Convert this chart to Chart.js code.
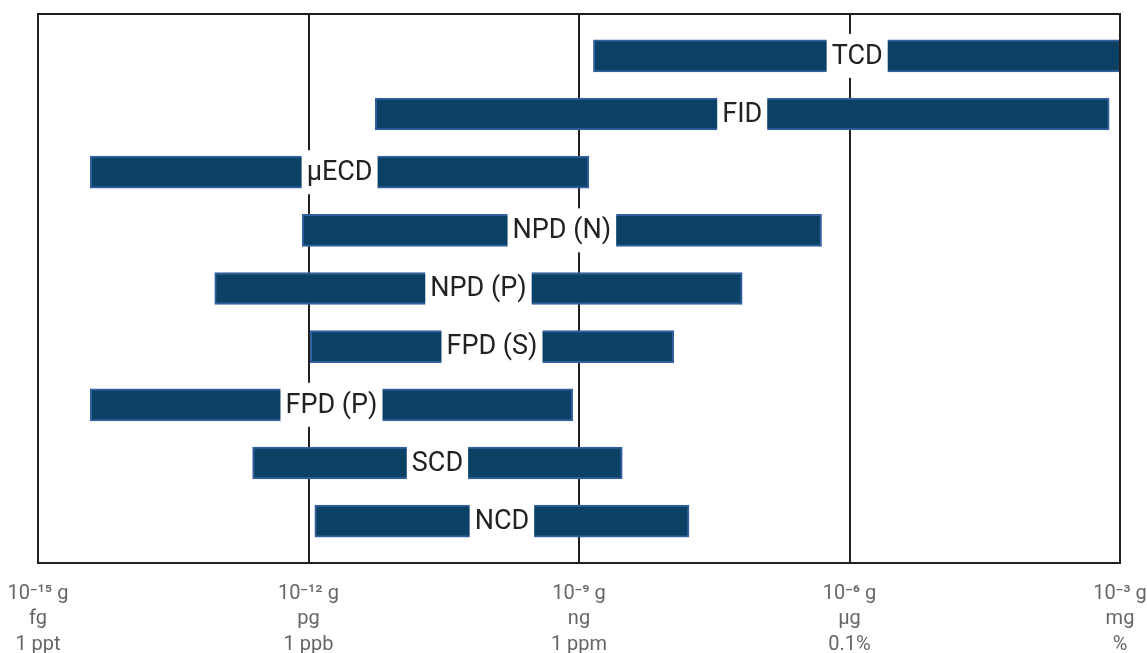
<!DOCTYPE html>
<html>
<head>
<meta charset="utf-8">
<script src="https://cdn.jsdelivr.net/npm/chart.js@4/dist/chart.umd.min.js"></script>
<style>
  html, body { margin: 0; padding: 0; background: #fff; }
  #wrap { width: 1147px; height: 653px; }
</style>
</head>
<body>
<div id="wrap"><canvas id="myChart"></canvas></div>
<script>
// Detectores y rango de detección (exponentes de 10, en gramos)
const detectores = ['TCD', 'FID', 'μECD', 'NPD (N)', 'NPD (P)', 'FPD (S)', 'FPD (P)', 'SCD', 'NCD'];
const expMin = [-8.84, -11.26, -14.42, -12.07, -13.04, -11.98, -14.42, -12.62, -11.93];
const expMax = [-2.99, -3.12, -8.89, -6.31, -7.19, -7.95, -9.07, -8.52, -7.78];

// Etiquetas del eje x
const ticksX = [1e-15, 1e-12, 1e-9, 1e-6, 1e-3];
const etiquetasX = [
    ['10⁻¹⁵ g', 'fg', '1 ppt'],
    ['10⁻¹² g', 'pg', '1 ppb'],
    ['10⁻⁹ g', 'ng', '1 ppm'],
    ['10⁻⁶ g', 'μg', '0.1%'],
    ['10⁻³ g', 'mg', '%']
];

const datos = detectores.map((d, i) => ({
    x: [Math.pow(10, expMin[i]), Math.pow(10, expMax[i])],
    y: i
}));

// Marco del área + etiquetas con fondo blanco en el centro de cada barra
const marcoYEtiquetas = {
    id: 'marcoYEtiquetas',
    afterDatasetsDraw(chart) {
        const ctx = chart.ctx;
        const area = chart.chartArea;
        const meta = chart.getDatasetMeta(0);
        ctx.save();
        ctx.font = '27px Roboto';
        ctx.textAlign = 'center';
        ctx.textBaseline = 'middle';
        meta.data.forEach((bar, i) => {
            const cx = (bar.x + bar.base) / 2;
            const w = ctx.measureText(detectores[i]).width + 10;
            ctx.fillStyle = '#fff';
            ctx.fillRect(cx - w / 2, bar.y - 22, w, 44);
            ctx.fillStyle = '#222';
            ctx.fillText(detectores[i], cx, bar.y + 1);
        });
        ctx.strokeStyle = '#231f20';
        ctx.lineWidth = 2;
        ctx.strokeRect(area.left, area.top, area.right - area.left, area.bottom - area.top);
        ctx.restore();
    }
};

function crearGrafica() {
    const ctx = document.getElementById('myChart').getContext('2d');
    new Chart(ctx, {
        type: 'bar',
        data: {
            datasets: [{
                data: datos,
                backgroundColor: '#0c4166',
                borderColor: '#33609e',
                borderWidth: 2,
                borderSkipped: false,
                barThickness: 32
            }]
        },
        options: {
            indexAxis: 'y',
            responsive: true,
            maintainAspectRatio: false,
            animation: false,
            layout: { padding: { left: 38, right: 27, top: 14, bottom: 0 } },
            plugins: {
                legend: { display: false },
                tooltip: { enabled: false }
            },
            scales: {
                x: {
                    type: 'logarithmic',
                    min: 1e-15,
                    max: 1e-3,
                    afterBuildTicks: axis => {
                        axis.ticks = ticksX.map(v => ({ value: v }));
                    },
                    afterFit: axis => {
                        axis.paddingLeft = 0;
                        axis.paddingRight = 0;
                        axis.height = 90;
                    },
                    ticks: {
                        autoSkip: false,
                        maxRotation: 0,
                        color: '#666',
                        font: { family: 'Roboto', size: 20, lineHeight: 1.28 },
                        padding: 18,
                        callback: (v, i) => etiquetasX[i]
                    },
                    grid: {
                        color: c => (c.index === 0 || c.index === ticksX.length - 1) ? 'rgba(0,0,0,0)' : '#231f20',
                        lineWidth: 2,
                        drawTicks: false
                    },
                    border: { display: false }
                },
                y: {
                    type: 'linear',
                    reverse: true,
                    offset: false,
                    min: -0.72,
                    max: 8.72,
                    display: false
                }
            }
        },
        plugins: [marcoYEtiquetas]
    });
}

document.addEventListener('DOMContentLoaded', crearGrafica);
</script>
</body>
</html>
